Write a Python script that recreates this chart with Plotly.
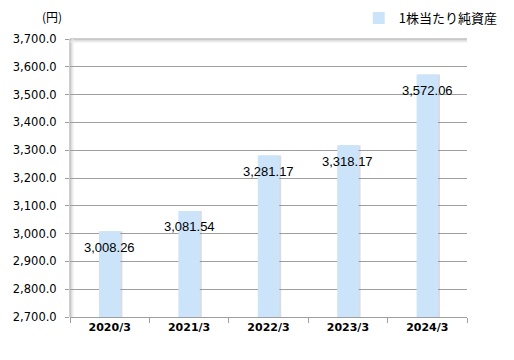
import plotly.graph_objects as go

categories = ["2020/3", "2021/3", "2022/3", "2023/3", "2024/3"]
values = [3008.26, 3081.54, 3281.17, 3318.17, 3572.06]
labels = ["3,008.26", "3,081.54", "3,281.17", "3,318.17", "3,572.06"]
series_name = "1株当たり純資産"

BAR_W = 0.27
fig = go.Figure()
# soft shadow to the right of each bar
fig.add_trace(go.Bar(
    x=categories, y=values, width=BAR_W, offset=-BAR_W / 2 + 0.025,
    marker=dict(color="rgba(120,130,150,0.28)", line=dict(width=0)),
    showlegend=False, hoverinfo="skip"))
fig.add_trace(go.Bar(
    x=categories, y=values, width=BAR_W, offset=-BAR_W / 2,
    marker=dict(color="#CCE4FA", line=dict(width=0)),
    name=series_name))

annotations = [dict(x=c, y=v, text=t, xref="x", yref="y", yshift=-16,
                    showarrow=False, xanchor="center", yanchor="middle",
                    font=dict(family="Liberation Sans", size=13, color="#000000"))
               for c, v, t in zip(categories, values, labels)]
annotations.append(dict(text="(円)", xref="paper", yref="paper",
                        x=-0.045, y=1.082, xanchor="center", yanchor="middle",
                        showarrow=False,
                        font=dict(family="Noto Sans CJK JP", size=12, color="#000000")))

shapes = []
# plot-area shadow along top and left edges
for i, c in enumerate(["#9E9E9E", "#C4C4C4", "#DADADA", "#ECECEC"]):
    shapes.append(dict(type="line", xref="paper", yref="paper",
                       x0=0, x1=1, y0=1 - i / 278, y1=1 - i / 278,
                       line=dict(color=c, width=1), layer="below"))
    shapes.append(dict(type="line", xref="paper", yref="paper",
                       x0=i / 397, x1=i / 397, y0=0, y1=1,
                       line=dict(color=c, width=1), layer="below"))

fig.update_layout(
    width=506, height=352,
    margin=dict(l=62, r=47, t=31, b=43, autoexpand=False),
    paper_bgcolor="white", plot_bgcolor="white",
    barmode="overlay",
    font=dict(family="DejaVu Sans", size=12, color="#000000"),
    shapes=shapes,
    showlegend=True,
    legend=dict(x=1.09, xanchor="right", y=1.075, yanchor="middle",
                bgcolor="rgba(0,0,0,0)", itemwidth=30,
                font=dict(family="Noto Sans CJK JP", size=13, color="#000000"),
                tracegroupgap=0),
    annotations=annotations,
)
fig.update_xaxes(
    type="category", showline=True, linecolor="#9E9E9E", linewidth=1,
    ticks="outside", tickson="boundaries", ticklen=5, tickcolor="#9E9E9E",
    tickfont=dict(family="DejaVu Sans", size=11, color="#000000", weight="bold"),
    showgrid=False, range=[-0.5, 4.5], fixedrange=True)
fig.update_yaxes(
    range=[2700, 3700], dtick=100, tick0=2700, tickformat=",.1f",
    showgrid=True, gridcolor="#9E9E9E", gridwidth=1,
    showline=False, ticks="outside", ticklen=4, tickcolor="#9E9E9E",
    ticklabelstandoff=6,
    tickfont=dict(family="DejaVu Sans", size=11.5, color="#000000"),
    zeroline=False, fixedrange=True)

fig.write_html("out.html")
